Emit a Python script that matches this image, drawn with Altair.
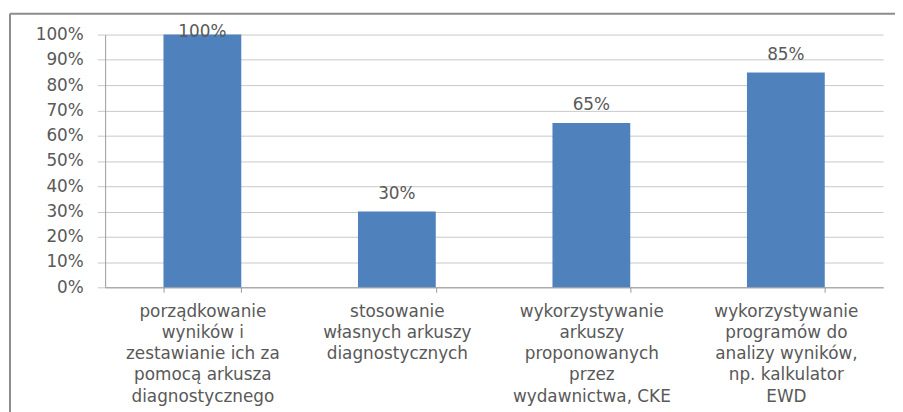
import altair as alt
import pandas as pd

categories = [
    "porządkowanie|wyników i|zestawianie ich za|pomocą arkusza|diagnostycznego",
    "stosowanie|własnych arkuszy|diagnostycznych",
    "wykorzystywanie|arkuszy|proponowanych|przez|wydawnictwa, CKE",
    "wykorzystywanie|programów do|analizy wyników,|np. kalkulator|EWD",
]
values = [1.00, 0.30, 0.65, 0.85]
y_ticks = [0.0, 0.1, 0.2, 0.3, 0.4, 0.5, 0.6, 0.7, 0.8, 0.9, 1.0]

df = pd.DataFrame({"cat": categories, "value": values})

FONT = "DejaVu Sans"
TXT = "#595959"
W, H = 785, 255

x_axis = alt.Axis(
    title=None,
    labelAngle=0,
    labelExpr="split(datum.label, '|')",
    labelFont=FONT,
    labelFontSize=17,
    labelColor=TXT,
    labelLineHeight=21.5,
    labelPadding=11,
    labelBaseline="top",
    tickBand="extent",
    tickSize=5,
    tickColor="#9a9a9a",
    domainColor="#9a9a9a",
    labelLimit=300,
    grid=False,
)
x_scale = alt.Scale(paddingInner=0.6, paddingOuter=0.3)

y_axis = alt.Axis(
    title=None,
    format=".0%",
    values=y_ticks,
    labelOverlap=False,
    labelFont=FONT,
    labelFontSize=17,
    labelColor=TXT,
    labelPadding=14,
    tickSize=8,
    tickColor="#c8c8c8",
    gridColor="#c8c8c8",
    domainColor="#9a9a9a",
)
y_scale = alt.Scale(domain=[0, 1], nice=False)

bars = alt.Chart(df).mark_bar(color="#4F81BD").encode(
    x=alt.X("cat:N", sort=None, scale=x_scale, axis=x_axis),
    y=alt.Y("value:Q", scale=y_scale, axis=y_axis),
)

labels = (
    alt.Chart(df)
    .transform_calculate(ly="min(datum.value + 0.07, 1.01)")
    .mark_text(font=FONT, fontSize=17, color=TXT, baseline="middle")
    .encode(
        x=alt.X("cat:N", sort=None, scale=x_scale, axis=x_axis),
        y=alt.Y("ly:Q", scale=y_scale, axis=y_axis),
        text=alt.Text("value:Q", format=".0%"),
    )
)

frame_df = pd.DataFrame({"a": [0]})
top_line = alt.Chart(frame_df).mark_rule(color="#8c8c8c", strokeWidth=2).encode(
    x=alt.value(-96), x2=alt.value(W + 20), y=alt.value(-21)
)
left_line = alt.Chart(frame_df).mark_rule(color="#8c8c8c", strokeWidth=2).encode(
    x=alt.value(-96), y=alt.value(-21), y2=alt.value(H + 130)
)

chart = (
    alt.layer(bars, labels, top_line, left_line)
    .properties(
        width=W,
        height=H,
        autosize=alt.AutoSizeParams(type="none"),
        padding={"left": 98, "top": 25, "right": 12, "bottom": 124},
    )
    .configure_view(stroke=None)
)

chart.save("out.html", embed_options={"renderer": "svg", "actions": False})
